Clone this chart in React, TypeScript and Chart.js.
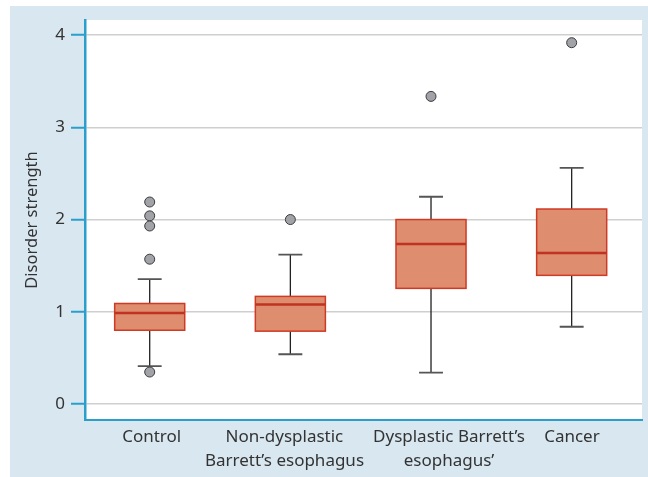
import React, { useEffect, useRef } from "react";
import { Chart, registerables } from "chart.js";
Chart.register(...registerables);

const categories: string[][] = [
  ["Control"],
  ["Non-dysplastic", "Barrett\u2019s esophagus"],
  ["Dysplastic Barrett\u2019s", "esophagus\u2019"],
  ["Cancer"],
];
const labelPositions = [0.014, 0.958, 2.128, 3.002];
const q1 = [0.8, 0.79, 1.254, 1.395];
const medians = [0.986, 1.08, 1.734, 1.637];
const q3 = [1.09, 1.167, 2.0, 2.114];
const whiskerLow = [0.41, 0.54, 0.34, 0.838];
const whiskerHigh = [1.355, 1.62, 2.247, 2.56];
const outliers: number[][] = [
  [2.19, 2.04, 1.93, 1.57, 0.347],
  [2.0],
  [3.335],
  [3.917],
];
const yTicks = [0, 1, 2, 3, 4];

const FONT = "'Noto Sans', 'Open Sans', sans-serif";

export default function App() {
  const ref = useRef<HTMLCanvasElement | null>(null);
  useEffect(() => {
    document.body.style.margin = "0";
    const canvas = ref.current!;
    const outlierPoints: { x: number; y: number }[] = [];
    outliers.forEach((arr, i) => arr.forEach((v) => outlierPoints.push({ x: i, y: v })));

    const bgPlugin = {
      id: "bg",
      beforeDraw(chart: any) {
        const { ctx, chartArea } = chart;
        ctx.save();
        ctx.fillStyle = "#ffffff";
        ctx.fillRect(0, 0, chart.width, chart.height);
        ctx.fillStyle = "#d8e7f0";
        ctx.fillRect(10, 6, chart.width - 10, chart.height - 6);
        ctx.fillStyle = "#ffffff";
        ctx.fillRect(chartArea.left, chartArea.top, chartArea.right - chartArea.left, chartArea.bottom - chartArea.top);
        ctx.restore();
      },
    };

    const boxPlugin = {
      id: "boxes",
      beforeDatasetsDraw(chart: any) {
        const { ctx, scales } = chart;
        const xs = scales.x, ys = scales.y;
        const halfBox = 0.249;
        const halfCap = 0.085;
        ctx.save();
        for (let i = 0; i < q1.length; i++) {
          const cx = xs.getPixelForValue(i);
          const l = xs.getPixelForValue(i - halfBox);
          const r = xs.getPixelForValue(i + halfBox);
          const cl = xs.getPixelForValue(i - halfCap);
          const cr = xs.getPixelForValue(i + halfCap);
          const yq1 = ys.getPixelForValue(q1[i]);
          const yq3 = ys.getPixelForValue(q3[i]);
          const ymed = ys.getPixelForValue(medians[i]);
          const ylo = ys.getPixelForValue(whiskerLow[i]);
          const yhi = ys.getPixelForValue(whiskerHigh[i]);
          ctx.strokeStyle = "#222222";
          ctx.lineWidth = 1.3;
          ctx.beginPath();
          ctx.moveTo(cx, yq3);
          ctx.lineTo(cx, yhi);
          ctx.moveTo(cx, yq1);
          ctx.lineTo(cx, ylo);
          ctx.stroke();
          ctx.strokeStyle = "#555555";
          ctx.lineWidth = 1.8;
          ctx.beginPath();
          ctx.moveTo(cl, yhi);
          ctx.lineTo(cr, yhi);
          ctx.moveTo(cl, ylo);
          ctx.lineTo(cr, ylo);
          ctx.stroke();
          ctx.fillStyle = "#de8d6f";
          ctx.fillRect(l, yq3, r - l, yq1 - yq3);
          ctx.strokeStyle = "#cf3a24";
          ctx.lineWidth = 1.5;
          ctx.strokeRect(l, yq3, r - l, yq1 - yq3);
          ctx.strokeStyle = "#bf3320";
          ctx.lineWidth = 2.5;
          ctx.beginPath();
          ctx.moveTo(l, ymed);
          ctx.lineTo(r, ymed);
          ctx.stroke();
        }
        ctx.restore();
      },
    };

    const chart = new Chart(canvas, {
      type: "scatter",
      data: {
        datasets: [
          {
            data: outlierPoints,
            pointRadius: 5,
            pointBackgroundColor: "#a2a3a8",
            pointBorderColor: "#3c3c3c",
            pointBorderWidth: 1,
          },
        ],
      },
      options: {
        responsive: false,
        animation: false,
        layout: { padding: { left: 10, top: 20, right: 6, bottom: 0 } },
        plugins: { legend: { display: false }, tooltip: { enabled: false } },
        scales: {
          x: {
            type: "linear",
            min: -0.46,
            max: 3.5,
            grid: { display: false, drawTicks: false },
            border: { display: true, color: "#2a9fcc", width: 2 },
            afterBuildTicks: (scale: any) => {
              scale.ticks = labelPositions.map((v) => ({ value: v }));
            },
            afterFit: (scale: any) => {
              scale.height = 57;
            },
            ticks: {
              autoSkip: false,
              maxRotation: 0,
              padding: 5,
              color: "#333333",
              font: { family: FONT, size: 17, lineHeight: 1.42 },
              callback: (_v: any, idx: number) => categories[idx],
            },
          },
          y: {
            type: "linear",
            min: -0.173,
            max: 4.163,
            afterBuildTicks: (scale: any) => {
              scale.ticks = yTicks.map((v) => ({ value: v }));
            },
            afterFit: (scale: any) => {
              scale.width = 75;
            },
            grid: { color: "#cfcfcf", lineWidth: 1.5, tickLength: 14, tickColor: "#2a9fcc", tickWidth: 2 },
            border: { display: true, color: "#2a9fcc", width: 2.5 },
            ticks: {
              padding: 6,
              color: "#333333",
              font: { family: FONT, size: 17 },
              callback: (v: any) => String(v),
            },
            title: {
              display: true,
              text: "Disorder strength",
              color: "#333333",
              font: { family: FONT, size: 16.5 },
              padding: { top: 12, bottom: 0 },
            },
          },
        },
      },
      plugins: [bgPlugin, boxPlugin],
    } as any);
    return () => chart.destroy();
  }, []);
  return <canvas ref={ref} width={648} height={477} style={{ display: "block" }} />;
}
